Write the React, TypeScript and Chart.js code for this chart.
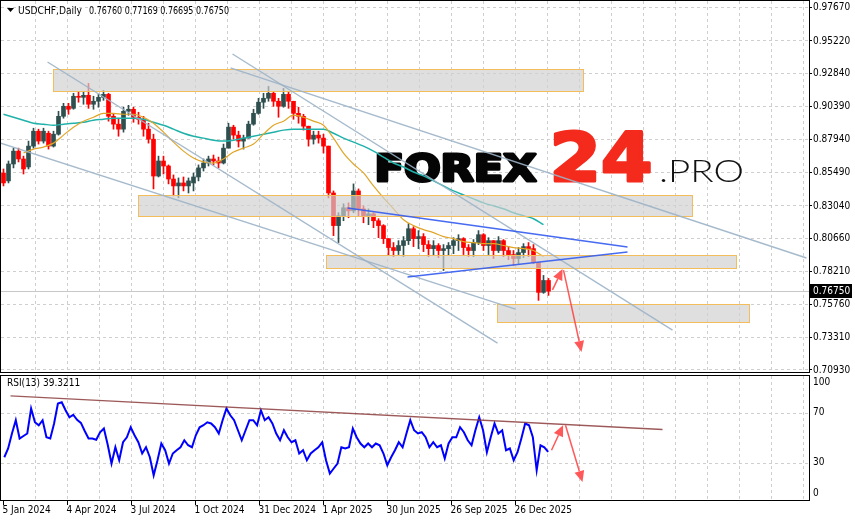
import { useEffect, useRef } from 'react';
import { Chart, registerables } from 'chart.js';

Chart.register(...registerables);

const UI_FONT = '"DejaVu Sans Condensed", "DejaVu Sans", sans-serif';

// Instrument header
const symbolName = 'USDCHF,Daily';
const lastOpen = 0.7676;
const lastHigh = 0.77169;
const lastLow = 0.76695;
const lastClose = 0.7675;

// Weekly candles (5 daily bars each), first week starting 5 Jan 2024
const weekOpen = [
  0.8547, 0.8489, 0.8614, 0.8709, 0.8651, 0.8592, 0.8746, 0.8856, 0.8783, 0.8841,
  0.8746, 0.8834, 0.8966, 0.9040, 0.9025, 0.9114, 0.9106, 0.9121, 0.9055, 0.9077,
  0.9106, 0.9128, 0.8966, 0.8908, 0.8871, 0.9003, 0.9018, 0.8959, 0.8944, 0.8871,
  0.8797, 0.8525, 0.8636, 0.8599, 0.8503, 0.8452, 0.8474, 0.8452, 0.8474, 0.8518,
  0.8585, 0.8621, 0.8651, 0.8636, 0.8621, 0.8731, 0.8886, 0.8827, 0.8783, 0.8805,
  0.8908, 0.8988, 0.9070, 0.9099, 0.9136, 0.9077, 0.9040, 0.9128, 0.9077, 0.8988,
  0.8966, 0.8893, 0.8797, 0.8827, 0.8805, 0.8746, 0.8400, 0.8159, 0.8232, 0.8291,
  0.8268, 0.8415, 0.8283, 0.8232, 0.8246, 0.8195, 0.8159, 0.8063, 0.7997, 0.7975,
  0.8012, 0.8048, 0.8136, 0.8063, 0.8078, 0.8019, 0.7989, 0.8012, 0.7975, 0.7989,
  0.8012, 0.8048, 0.8063, 0.7997, 0.7975, 0.8034, 0.8092, 0.8012, 0.8048, 0.7975,
  0.8048, 0.7975, 0.7945, 0.7916, 0.7960, 0.8004, 0.7989, 0.7886, 0.7666, 0.7754,
];
const weekHigh = [
  0.8577, 0.8636, 0.8731, 0.8731, 0.8672, 0.8783, 0.8878, 0.8871, 0.8878, 0.8856,
  0.8856, 0.9003, 0.9062, 0.9062, 0.9136, 0.9143, 0.9150, 0.9209, 0.9114, 0.9128,
  0.9157, 0.9136, 0.8988, 0.8952, 0.9033, 0.9047, 0.9033, 0.8996, 0.8966, 0.8915,
  0.8834, 0.8672, 0.8672, 0.8607, 0.8533, 0.8511, 0.8518, 0.8511, 0.8547, 0.8607,
  0.8651, 0.8672, 0.8680, 0.8665, 0.8761, 0.8915, 0.8900, 0.8856, 0.8827, 0.8930,
  0.9018, 0.9099, 0.9136, 0.9187, 0.9150, 0.9099, 0.9172, 0.9143, 0.9077, 0.9033,
  0.8981, 0.8893, 0.8856, 0.8856, 0.8834, 0.8746, 0.8415, 0.8254, 0.8320, 0.8327,
  0.8467, 0.8430, 0.8305, 0.8283, 0.8254, 0.8210, 0.8166, 0.8063, 0.8034, 0.8048,
  0.8078, 0.8173, 0.8151, 0.8122, 0.8100, 0.8048, 0.8048, 0.8026, 0.8019, 0.8034,
  0.8070, 0.8092, 0.8070, 0.8019, 0.8056, 0.8122, 0.8100, 0.8070, 0.8048, 0.8078,
  0.8056, 0.8004, 0.7975, 0.7997, 0.8026, 0.8034, 0.8019, 0.7886, 0.7791, 0.7769,
];
const weekLow = [
  0.8452, 0.8474, 0.8585, 0.8629, 0.8540, 0.8577, 0.8731, 0.8761, 0.8768, 0.8724,
  0.8739, 0.8827, 0.8952, 0.8981, 0.9018, 0.9070, 0.9055, 0.9025, 0.9018, 0.9033,
  0.9084, 0.8930, 0.8871, 0.8819, 0.8849, 0.8974, 0.8922, 0.8908, 0.8819, 0.8768,
  0.8430, 0.8518, 0.8540, 0.8467, 0.8378, 0.8364, 0.8415, 0.8400, 0.8415, 0.8489,
  0.8562, 0.8599, 0.8607, 0.8585, 0.8614, 0.8731, 0.8797, 0.8739, 0.8724, 0.8805,
  0.8900, 0.8981, 0.9025, 0.9077, 0.9040, 0.8959, 0.9033, 0.9025, 0.8944, 0.8915,
  0.8864, 0.8746, 0.8761, 0.8768, 0.8695, 0.8364, 0.8085, 0.8034, 0.8195, 0.8217,
  0.8254, 0.8232, 0.8180, 0.8166, 0.8144, 0.8070, 0.8026, 0.7938, 0.7930, 0.7945,
  0.7930, 0.8019, 0.8004, 0.7989, 0.7967, 0.7930, 0.7938, 0.7923, 0.7828, 0.7938,
  0.7952, 0.7975, 0.7945, 0.7930, 0.7930, 0.8019, 0.7975, 0.7945, 0.7916, 0.7960,
  0.7930, 0.7908, 0.7864, 0.7879, 0.7923, 0.7930, 0.7879, 0.7607, 0.7659, 0.7644,
];
const weekClose = [
  0.8474, 0.8614, 0.8709, 0.8651, 0.8577, 0.8746, 0.8856, 0.8783, 0.8856, 0.8746,
  0.8834, 0.8966, 0.9040, 0.9018, 0.9114, 0.9106, 0.9121, 0.9055, 0.9077, 0.9106,
  0.9128, 0.8966, 0.8908, 0.8871, 0.9003, 0.9018, 0.8959, 0.8944, 0.8871, 0.8797,
  0.8525, 0.8636, 0.8599, 0.8503, 0.8452, 0.8474, 0.8452, 0.8489, 0.8518, 0.8585,
  0.8621, 0.8651, 0.8636, 0.8621, 0.8731, 0.8886, 0.8827, 0.8783, 0.8805, 0.8908,
  0.8988, 0.9070, 0.9099, 0.9136, 0.9077, 0.9040, 0.9128, 0.9077, 0.8988, 0.8966,
  0.8893, 0.8797, 0.8827, 0.8805, 0.8746, 0.8400, 0.8159, 0.8232, 0.8291, 0.8268,
  0.8415, 0.8283, 0.8232, 0.8246, 0.8195, 0.8159, 0.8063, 0.7997, 0.7975, 0.8012,
  0.8048, 0.8136, 0.8063, 0.8078, 0.8019, 0.7989, 0.8012, 0.7975, 0.7989, 0.8012,
  0.8048, 0.8063, 0.7997, 0.7975, 0.8034, 0.8092, 0.8012, 0.8048, 0.7975, 0.8048,
  0.7975, 0.7945, 0.7916, 0.7960, 0.8004, 0.7989, 0.7886, 0.7666, 0.7754, 0.7675,
];

// Fast moving average, one reading every 2 weeks from week 4
const maFast = [
  0.8695, 0.8724, 0.8739, 0.8768, 0.8827, 0.8886, 0.8930, 0.8959, 0.8988, 0.8988,
  0.8981, 0.8981, 0.8959, 0.8915, 0.8849, 0.8775, 0.8709, 0.8658, 0.8629, 0.8621,
  0.8651, 0.8702, 0.8731, 0.8761, 0.8834, 0.8900, 0.8930, 0.8974, 0.8959, 0.8930,
  0.8900, 0.8805, 0.8695, 0.8614, 0.8548, 0.8452, 0.8364, 0.8283, 0.8202, 0.8159,
  0.8129, 0.8107, 0.8078, 0.8063, 0.8041, 0.8034, 0.8026, 0.8026, 0.8012, 0.7997,
  0.7989, 0.7975, 0.7930,
];
// Slow moving average, one reading every 2 weeks from week 0
const maSlow = [
  0.8981, 0.8959, 0.8937, 0.8915, 0.8908, 0.8900, 0.8908, 0.8915, 0.8922, 0.8937,
  0.8944, 0.8952, 0.8952, 0.8952, 0.8944, 0.8922, 0.8900, 0.8871, 0.8841, 0.8819,
  0.8805, 0.8790, 0.8783, 0.8790, 0.8805, 0.8819, 0.8834, 0.8849, 0.8864, 0.8871,
  0.8871, 0.8871, 0.8871, 0.8841, 0.8805, 0.8775, 0.8746, 0.8709, 0.8665, 0.8621,
  0.8592, 0.8555, 0.8526, 0.8489, 0.8452, 0.8415, 0.8386, 0.8356, 0.8327, 0.8305,
  0.8283, 0.8254, 0.8232, 0.8210, 0.8166,
];

// RSI(13) readings, one every ~3.83 daily bars
const rsiName = 'RSI(13)';
const rsiLast = 39.3211;
const rsiValues = [
  35, 42, 54, 64.6, 50, 52, 54, 74, 63, 60.6,
  64.6, 51, 50, 62, 78, 79, 72.6, 67, 69, 65,
  62.5, 56, 50, 50, 49, 55, 58, 45, 30, 43,
  32.6, 47, 51, 59, 52.6, 47, 38, 43, 35, 20.6,
  32.6, 46, 40.6, 30, 38, 40.6, 43, 48.6, 44.6, 43,
  52.6, 59, 60.6, 63, 62, 59, 54, 64.6, 74, 68.6,
  64.6, 56.6, 48.6, 56.6, 64.6, 64.6, 60.6, 72.6, 64.6, 67,
  62, 54, 48.6, 56.6, 51, 47, 48.6, 38, 40.6, 32.6,
  38, 40.6, 43, 47, 32.6, 22, 26, 30, 43, 42,
  43, 58, 51, 46, 43, 46, 43, 46, 44.6, 38,
  28.6, 35, 40.6, 47, 43, 54, 64.6, 56.6, 54, 55,
  51, 43, 47, 43, 44.6, 34, 46, 51, 51, 59,
  55, 48.6, 44.6, 56.6, 67, 56.6, 39, 51, 62, 54,
  56.6, 40.6, 42, 32.6, 39, 50, 62, 60.6, 51, 24.6,
  44.6, 43, 39.32,
];
const rsiFirstBar = 0.8;
const rsiStep = 3.83;

// Axis labels
const priceTicks = [0.9767, 0.9522, 0.9284, 0.9039, 0.8794, 0.8549, 0.8304, 0.8066, 0.7821, 0.7576, 0.7331, 0.7093];
const rsiTicks = [100, 70, 30, 0];
const rsiLevels = [70, 30];
const dateLabels = ['5 Jan 2024', '4 Apr 2024', '3 Jul 2024', '1 Oct 2024', '31 Dec 2024', '1 Apr 2025', '30 Jun 2025', '26 Sep 2025', '26 Dec 2025'];
const dateLabelBars = [0, 64, 128, 192, 256, 320, 384, 448, 512];

// Zones: bar range and price range
const zoneFromBar = [50, 135, 323, 494];
const zoneToBar = [580, 689, 733, 746];
const zoneTop = [0.9308, 0.8378, 0.7942, 0.7580];
const zoneBottom = [0.9146, 0.8223, 0.7839, 0.7447];

// Channel lines: [bar1, price1, bar2, price2]
const greyLines = [
  [44, 0.9367, 494, 0.7292],
  [-3, 0.8769, 512, 0.7543],
  [229, 0.9426, 669, 0.7388],
  [227, 0.9323, 803, 0.7920],
];
const blueLines = [
  [344, 0.8289, 624, 0.8001],
  [404, 0.7780, 624, 0.7964],
];
const priceArrows = [
  [549, 0.7684, 559, 0.7839],
  [560, 0.7831, 578, 0.7226],
];
const rsiTrend = [7, 84.1, 659, 57.2];
const rsiArrows = [
  [548, 40.6, 559.6, 60.6],
  [562, 60.6, 579, 15.3],
];

const BARS_PER_WEEK = 5;
const X_MIN = -2.5;
const X_MAX = 805.5;
const PRICE_MIN = 0.70782;
const PRICE_MAX = 0.98173;
const UP = '#2f4f4f';
const DOWN = '#ff0000';
const GRID = '#cfcfcf';
const GRID_STEP = 32;
const LOGO_BOLD = 'bold {s}px "DejaVu Sans", "Liberation Sans", sans-serif';

function seg(ctx, x1, y1, x2, y2) {
  ctx.beginPath();
  ctx.moveTo(x1, y1);
  ctx.lineTo(x2, y2);
  ctx.stroke();
}

function arrow(ctx, x1, y1, x2, y2, color) {
  const ang = Math.atan2(y2 - y1, x2 - x1);
  const len = 11;
  const half = 5;
  const bx = x2 - Math.cos(ang) * len;
  const by = y2 - Math.sin(ang) * len;
  ctx.strokeStyle = color;
  ctx.fillStyle = color;
  ctx.lineWidth = 1.5;
  seg(ctx, x1, y1, bx, by);
  ctx.beginPath();
  ctx.moveTo(x2, y2);
  ctx.lineTo(bx + Math.sin(ang) * half, by - Math.cos(ang) * half);
  ctx.lineTo(bx - Math.sin(ang) * half, by + Math.cos(ang) * half);
  ctx.closePath();
  ctx.fill();
}

// Draws text squeezed or stretched to a given width; optional outline thickens heavy logo type
function fitText(ctx, text, font, color, x, baseline, width, outline = 0) {
  ctx.save();
  ctx.font = font;
  const w = ctx.measureText(text).width;
  ctx.translate(x + outline / 2, baseline);
  ctx.scale((width - outline) / w, 1);
  ctx.fillStyle = color;
  ctx.textBaseline = 'alphabetic';
  ctx.textAlign = 'left';
  ctx.fillText(text, 0, 0);
  if (outline > 0) {
    ctx.strokeStyle = color;
    ctx.lineWidth = outline;
    ctx.lineJoin = 'round';
    ctx.strokeText(text, 0, 0);
  }
  ctx.restore();
}

function verticalGrid(ctx, x, a) {
  ctx.strokeStyle = GRID;
  ctx.lineWidth = 1;
  ctx.setLineDash([3, 3]);
  for (let b = GRID_STEP; b <= X_MAX; b += GRID_STEP) {
    const px = Math.floor(x.getPixelForValue(b)) + 0.5;
    if (px >= a.right - 1) break;
    seg(ctx, px, a.top, px, a.bottom);
  }
  ctx.setLineDash([]);
}

const mainDecor = {
  id: 'mainDecor',
  beforeDraw(chart) {
    const { ctx } = chart;
    ctx.save();
    ctx.fillStyle = '#ffffff';
    ctx.fillRect(0, 0, chart.width, chart.height);
    ctx.restore();
  },
  beforeDatasetsDraw(chart) {
    const { ctx, chartArea: a, scales } = chart;
    const x = scales.x;
    const y = scales.y;
    ctx.save();
    verticalGrid(ctx, x, a);
    ctx.strokeStyle = GRID;
    ctx.setLineDash([3, 3]);
    for (const v of priceTicks) {
      const py = Math.floor(y.getPixelForValue(v)) + 0.5;
      seg(ctx, a.left, py, a.right, py);
    }
    ctx.setLineDash([]);
    // bid line
    const by = Math.floor(y.getPixelForValue(lastClose)) + 0.5;
    ctx.strokeStyle = '#c8c8c8';
    seg(ctx, a.left, by, a.right, by);

    // watermark
    fitText(ctx, 'FOREX', LOGO_BOLD.replace('{s}', '37'), '#050505', 373, 180.5, 165, 3);
    fitText(ctx, '24', LOGO_BOLD.replace('{s}', '67'), '#f42a1c', 548, 180.5, 106, 3);
    fitText(ctx, '.PRO', '300 32px Lato, "Open Sans", sans-serif', '#111111', 659, 182, 85);
    ctx.restore();
  },
  afterDatasetsDraw(chart) {
    const { ctx, chartArea: a, scales } = chart;
    const x = scales.x;
    const y = scales.y;
    ctx.save();
    ctx.beginPath();
    ctx.rect(a.left, a.top, a.right - a.left, a.bottom - a.top);
    ctx.clip();

    // zones
    for (let i = 0; i < zoneTop.length; i++) {
      const x1 = Math.floor(x.getPixelForValue(zoneFromBar[i])) + 0.5;
      const x2 = Math.floor(x.getPixelForValue(zoneToBar[i])) + 0.5;
      const y1 = Math.floor(y.getPixelForValue(zoneTop[i])) + 0.5;
      const y2 = Math.floor(y.getPixelForValue(zoneBottom[i])) + 0.5;
      ctx.fillStyle = 'rgba(208,208,208,0.68)';
      ctx.fillRect(x1, y1, x2 - x1, y2 - y1);
      ctx.strokeStyle = '#f2bd5a';
      ctx.lineWidth = 1;
      ctx.strokeRect(x1, y1, x2 - x1, y2 - y1);
    }

    ctx.lineWidth = 1.4;
    ctx.strokeStyle = 'rgba(155,178,198,0.9)';
    for (const l of greyLines) {
      seg(ctx, x.getPixelForValue(l[0]), y.getPixelForValue(l[1]), x.getPixelForValue(l[2]), y.getPixelForValue(l[3]));
    }
    ctx.lineWidth = 1.5;
    ctx.strokeStyle = 'rgba(50,90,240,0.9)';
    for (const l of blueLines) {
      seg(ctx, x.getPixelForValue(l[0]), y.getPixelForValue(l[1]), x.getPixelForValue(l[2]), y.getPixelForValue(l[3]));
    }
    for (const l of priceArrows) {
      arrow(ctx, x.getPixelForValue(l[0]), y.getPixelForValue(l[1]), x.getPixelForValue(l[2]), y.getPixelForValue(l[3]), 'rgba(255,70,70,0.9)');
    }
    ctx.restore();

    ctx.save();
    // frame
    ctx.strokeStyle = '#000';
    ctx.lineWidth = 1;
    ctx.strokeRect(a.left - 0.5, a.top - 0.5, a.right - a.left + 1, a.bottom - a.top + 1);

    // price axis
    ctx.font = '10px ' + UI_FONT;
    ctx.fillStyle = '#000';
    ctx.textBaseline = 'middle';
    ctx.textAlign = 'left';
    for (const v of priceTicks) {
      const py = y.getPixelForValue(v);
      const ty = Math.min(Math.max(py, a.top + 6), a.bottom - 2);
      seg(ctx, a.right, Math.floor(py) + 0.5, a.right + 3, Math.floor(py) + 0.5);
      ctx.fillText(v.toFixed(5), a.right + 4, ty);
    }
    // last price tag
    const ly = y.getPixelForValue(lastClose);
    ctx.fillStyle = '#000';
    ctx.fillRect(a.right + 1, Math.round(ly) - 7, 42, 14);
    ctx.fillStyle = '#fff';
    ctx.fillText(lastClose.toFixed(5), a.right + 4, ly);

    // header
    ctx.fillStyle = '#000';
    ctx.beginPath();
    ctx.moveTo(7, 8);
    ctx.lineTo(14, 8);
    ctx.lineTo(10.5, 12);
    ctx.closePath();
    ctx.fill();
    const vals = [lastOpen, lastHigh, lastLow, lastClose].map((v) => v.toFixed(5)).join(' ');
    fitText(ctx, symbolName, '11px ' + UI_FONT, '#000', 18, 14, 64);
    fitText(ctx, vals, '11px ' + UI_FONT, '#000', 89, 14, 140);
    ctx.restore();
  },
};

const rsiDecor = {
  id: 'rsiDecor',
  beforeDraw(chart) {
    const { ctx } = chart;
    ctx.save();
    ctx.fillStyle = '#ffffff';
    ctx.fillRect(0, 0, chart.width, chart.height);
    ctx.restore();
  },
  beforeDatasetsDraw(chart) {
    const { ctx, chartArea: a, scales } = chart;
    const x = scales.x;
    const y = scales.y;
    ctx.save();
    verticalGrid(ctx, x, a);
    ctx.strokeStyle = GRID;
    ctx.setLineDash([3, 3]);
    for (const v of rsiLevels) {
      const py = Math.floor(y.getPixelForValue(v)) + 0.5;
      seg(ctx, a.left, py, a.right, py);
    }
    ctx.restore();
  },
  afterDatasetsDraw(chart) {
    const { ctx, chartArea: a, scales } = chart;
    const x = scales.x;
    const y = scales.y;
    ctx.save();
    ctx.beginPath();
    ctx.rect(a.left, a.top, a.right - a.left, a.bottom - a.top);
    ctx.clip();
    ctx.strokeStyle = 'rgba(140,60,60,0.85)';
    ctx.lineWidth = 1.5;
    seg(ctx, x.getPixelForValue(rsiTrend[0]), y.getPixelForValue(rsiTrend[1]), x.getPixelForValue(rsiTrend[2]), y.getPixelForValue(rsiTrend[3]));
    for (const l of rsiArrows) {
      arrow(ctx, x.getPixelForValue(l[0]), y.getPixelForValue(l[1]), x.getPixelForValue(l[2]), y.getPixelForValue(l[3]), 'rgba(255,70,70,0.9)');
    }
    ctx.restore();

    ctx.save();
    const top = a.top - 1;
    const bottom = a.bottom - 1;
    ctx.strokeStyle = '#000';
    ctx.lineWidth = 1;
    ctx.strokeRect(a.left - 0.5, top + 0.5, a.right - a.left + 1, bottom - top);

    ctx.font = '10px ' + UI_FONT;
    ctx.fillStyle = '#000';
    ctx.textBaseline = 'middle';
    ctx.textAlign = 'left';
    for (const v of rsiTicks) {
      const py = y.getPixelForValue(v);
      const ty = Math.min(Math.max(py - 1, top + 7), bottom - 7);
      ctx.fillText(String(v), a.right + 4, ty);
    }
    // time axis
    for (let i = 0; i < dateLabels.length; i++) {
      const px = Math.floor(x.getPixelForValue(dateLabelBars[i])) + 0.5;
      seg(ctx, px, bottom + 1, px, bottom + 5);
      ctx.fillText(dateLabels[i], px - 1, bottom + 10);
    }
    ctx.fillText(rsiName + ' ' + rsiLast.toFixed(4), 7, top + 8);
    ctx.restore();
  },
};

export default function App() {
  const mainRef = useRef(null);
  const rsiRef = useRef(null);

  useEffect(() => {
    const wicks = weekOpen.map((o, i) => ({ x: i * BARS_PER_WEEK, y: [weekLow[i], weekHigh[i]] }));
    const bodies = weekOpen.map((o, i) => ({ x: i * BARS_PER_WEEK, y: [o, weekClose[i]] }));
    const colors = weekOpen.map((o, i) => (weekClose[i] >= o ? UP : DOWN));
    const fast = maFast.map((v, i) => ({ x: (4 + i * 2) * BARS_PER_WEEK, y: v }));
    const slow = maSlow.map((v, i) => ({ x: i * 2 * BARS_PER_WEEK, y: v }));
    const rsiPts = rsiValues.map((v, i) => ({ x: rsiFirstBar + i * rsiStep, y: v }));

    const common = {
      responsive: false,
      maintainAspectRatio: false,
      devicePixelRatio: 1,
      animation: false,
      events: [],
      plugins: { legend: { display: false }, tooltip: { enabled: false } },
    };

    const main = new Chart(mainRef.current, {
      type: 'bar',
      data: {
        datasets: [
          { type: 'bar', data: wicks, backgroundColor: colors, barThickness: 1, grouped: false, borderWidth: 0, order: 4 },
          { type: 'bar', data: bodies, backgroundColor: colors, barThickness: 4, grouped: false, borderWidth: 0, minBarLength: 1, order: 3 },
          { type: 'line', data: slow, borderColor: '#20b2aa', borderWidth: 1.5, pointRadius: 0, cubicInterpolationMode: 'monotone', order: 2 },
          { type: 'line', data: fast, borderColor: '#e0a526', borderWidth: 1.2, pointRadius: 0, cubicInterpolationMode: 'monotone', order: 1 },
        ],
      },
      options: {
        ...common,
        layout: { padding: { left: 1, top: 1, right: 46, bottom: 3 } },
        scales: {
          x: { type: 'linear', min: X_MIN, max: X_MAX, display: false, offset: false },
          y: { type: 'linear', min: PRICE_MIN, max: PRICE_MAX, display: false },
        },
      },
      plugins: [mainDecor],
    });

    const rsi = new Chart(rsiRef.current, {
      type: 'line',
      data: {
        datasets: [
          { data: rsiPts, borderColor: '#0000ff', borderWidth: 2, pointRadius: 0, tension: 0 },
        ],
      },
      options: {
        ...common,
        layout: { padding: { left: 1, top: 1, right: 46, bottom: 20 } },
        scales: {
          x: { type: 'linear', min: X_MIN, max: X_MAX, display: false },
          y: { type: 'linear', min: 0, max: 100, display: false },
        },
      },
      plugins: [rsiDecor],
    });

    return () => {
      main.destroy();
      rsi.destroy();
    };
  }, []);

  return (
    <div style={{ position: 'absolute', left: 0, top: 0, width: 855, height: 521, background: '#fff' }}>
      <canvas ref={mainRef} width={855} height={375} style={{ position: 'absolute', left: 0, top: 0, width: 855, height: 375 }} />
      <canvas ref={rsiRef} width={855} height={146} style={{ position: 'absolute', left: 0, top: 375, width: 855, height: 146 }} />
    </div>
  );
}
